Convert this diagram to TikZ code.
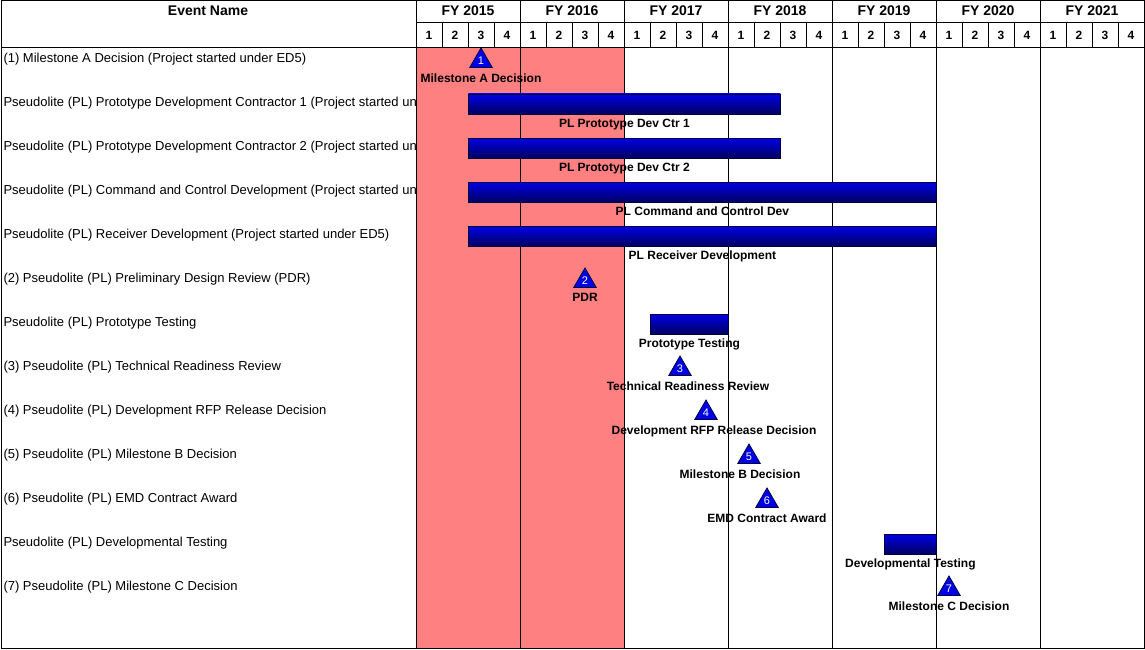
\documentclass[tikz,border=0pt]{standalone}
\usepackage{fontspec}
\setmainfont{Liberation Sans}
\usetikzlibrary{shapes.geometric,positioning}
\definecolor{GanttPink}{RGB}{255,128,128}
\definecolor{GanttBlue}{RGB}{0,0,230}
\definecolor{GanttNavy}{RGB}{0,0,96}
\definecolor{GanttEdge}{RGB}{0,0,64}

\begin{document}
\begin{tikzpicture}[x=1pt, y=-1pt, line width=1pt]
  \tikzstyle{head} = [font=\fontsize{14}{16}\selectfont\bfseries]
  \tikzstyle{qtr} = [font=\fontsize{12}{14}\selectfont\bfseries]
  \tikzstyle{event} = [anchor=west, inner sep=0pt, font=\fontsize{13}{15}\selectfont]
  \tikzstyle{bar} = [rectangle, draw=GanttEdge, line width=0.8pt, top color=GanttBlue, bottom color=GanttNavy, minimum height=20pt, inner sep=0pt, anchor=west]
  \tikzstyle{ms} = [regular polygon, regular polygon sides=3, draw=GanttEdge, line width=0.8pt, fill=GanttBlue, text=white, minimum size=26pt, inner sep=0pt, font=\fontsize{11}{11}\selectfont]
  \tikzstyle{tag} = [inner sep=0pt, font=\fontsize{12}{14}\selectfont\bfseries]

  \useasboundingbox (0,0) rectangle (1145,650);
  \fill [GanttPink] (416,48) rectangle (624,648);

  % grid
  \draw (1,1) rectangle (1144,648);
  \draw (1,48) -- (1144,48);
  \draw (416,23) -- (1144,23);
  \draw (416,1) -- (416,648);
  \foreach \k in {1,...,6} \draw (416+104*\k,1) -- (416+104*\k,648);
  \foreach \j in {1,...,27} \draw (416+26*\j,23) -- (416+26*\j,48);

  % header
  \node [head] (evname) at (208,11) {Event Name};
  \foreach \y [count=\k from 0] in {2015,...,2021}
    \node [head] (fy\y) at (468+104*\k,11) {FY \y};
  \foreach \j in {0,...,27} {
    \pgfmathtruncatemacro{\q}{mod(\j,4)+1}
    \node [qtr] (q\j) at (429+26*\j,35) {\q};
  }

  % event names
  \begin{scope}
    \clip (1,48) rectangle (416,648);
    \node [event] (ev1) at (3,59) {(1) Milestone A Decision (Project started under ED5)};
    \node [event] (ev2) at (3,103) {Pseudolite (PL) Prototype Development Contractor 1 (Project started under ED5)};
    \node [event] (ev3) at (3,147) {Pseudolite (PL) Prototype Development Contractor 2 (Project started under ED5)};
    \node [event] (ev4) at (3,191) {Pseudolite (PL) Command and Control Development (Project started under ED5)};
    \node [event] (ev5) at (3,235) {Pseudolite (PL) Receiver Development (Project started under ED5)};
    \node [event] (ev6) at (3,279) {(2) Pseudolite (PL) Preliminary Design Review (PDR)};
    \node [event] (ev7) at (3,323) {Pseudolite (PL) Prototype Testing};
    \node [event] (ev8) at (3,367) {(3) Pseudolite (PL) Technical Readiness Review};
    \node [event] (ev9) at (3,411) {(4) Pseudolite (PL) Development RFP Release Decision};
    \node [event] (ev10) at (3,455) {(5) Pseudolite (PL) Milestone B Decision};
    \node [event] (ev11) at (3,499) {(6) Pseudolite (PL) EMD Contract Award};
    \node [event] (ev12) at (3,543) {Pseudolite (PL) Developmental Testing};
    \node [event] (ev13) at (3,587) {(7) Pseudolite (PL) Milestone C Decision};
  \end{scope}

  % bars and milestones
  \node [ms] (msA) at (481,61) {1};
  \node [tag, below=5pt of msA] (msAtag) {Milestone A Decision};
  \node [bar, minimum width=312pt] (ctr1) at (468,104) {};
  \node [tag, below=4pt of ctr1] (ctr1tag) {PL Prototype Dev Ctr 1};
  \node [bar, minimum width=312pt] (ctr2) at (468,148) {};
  \node [tag, below=4pt of ctr2] (ctr2tag) {PL Prototype Dev Ctr 2};
  \node [bar, minimum width=468pt] (c2dev) at (468,192) {};
  \node [tag, below=4pt of c2dev] (c2devtag) {PL Command and Control Dev};
  \node [bar, minimum width=468pt] (rcvdev) at (468,236) {};
  \node [tag, below=4pt of rcvdev] (rcvdevtag) {PL Receiver Development};
  \node [ms] (pdr) at (585,281) {2};
  \node [tag, below=5pt of pdr] (pdrtag) {PDR};
  \node [bar, minimum width=78pt] (prototest) at (650,324) {};
  \node [tag, below=4pt of prototest] (prototesttag) {Prototype Testing};
  \node [ms] (trr) at (680,369) {3};
  \node [tag, below=5pt of trr, xshift=8pt] (trrtag) {Technical Readiness Review};
  \node [ms] (rfp) at (706,413) {4};
  \node [tag, below=5pt of rfp, xshift=8pt] (rfptag) {Development RFP Release Decision};
  \node [ms] (msB) at (749,457) {5};
  \node [tag, below=5pt of msB, xshift=-9pt] (msBtag) {Milestone B Decision};
  \node [ms] (emd) at (767,501) {6};
  \node [tag, below=5pt of emd] (emdtag) {EMD Contract Award};
  \node [bar, minimum width=52pt] (devtest) at (884,544) {};
  \node [tag, below=4pt of devtest] (devtesttag) {Developmental Testing};
  \node [ms] (msC) at (949,589) {7};
  \node [tag, below=5pt of msC] (msCtag) {Milestone C Decision};
\end{tikzpicture}
\end{document}
